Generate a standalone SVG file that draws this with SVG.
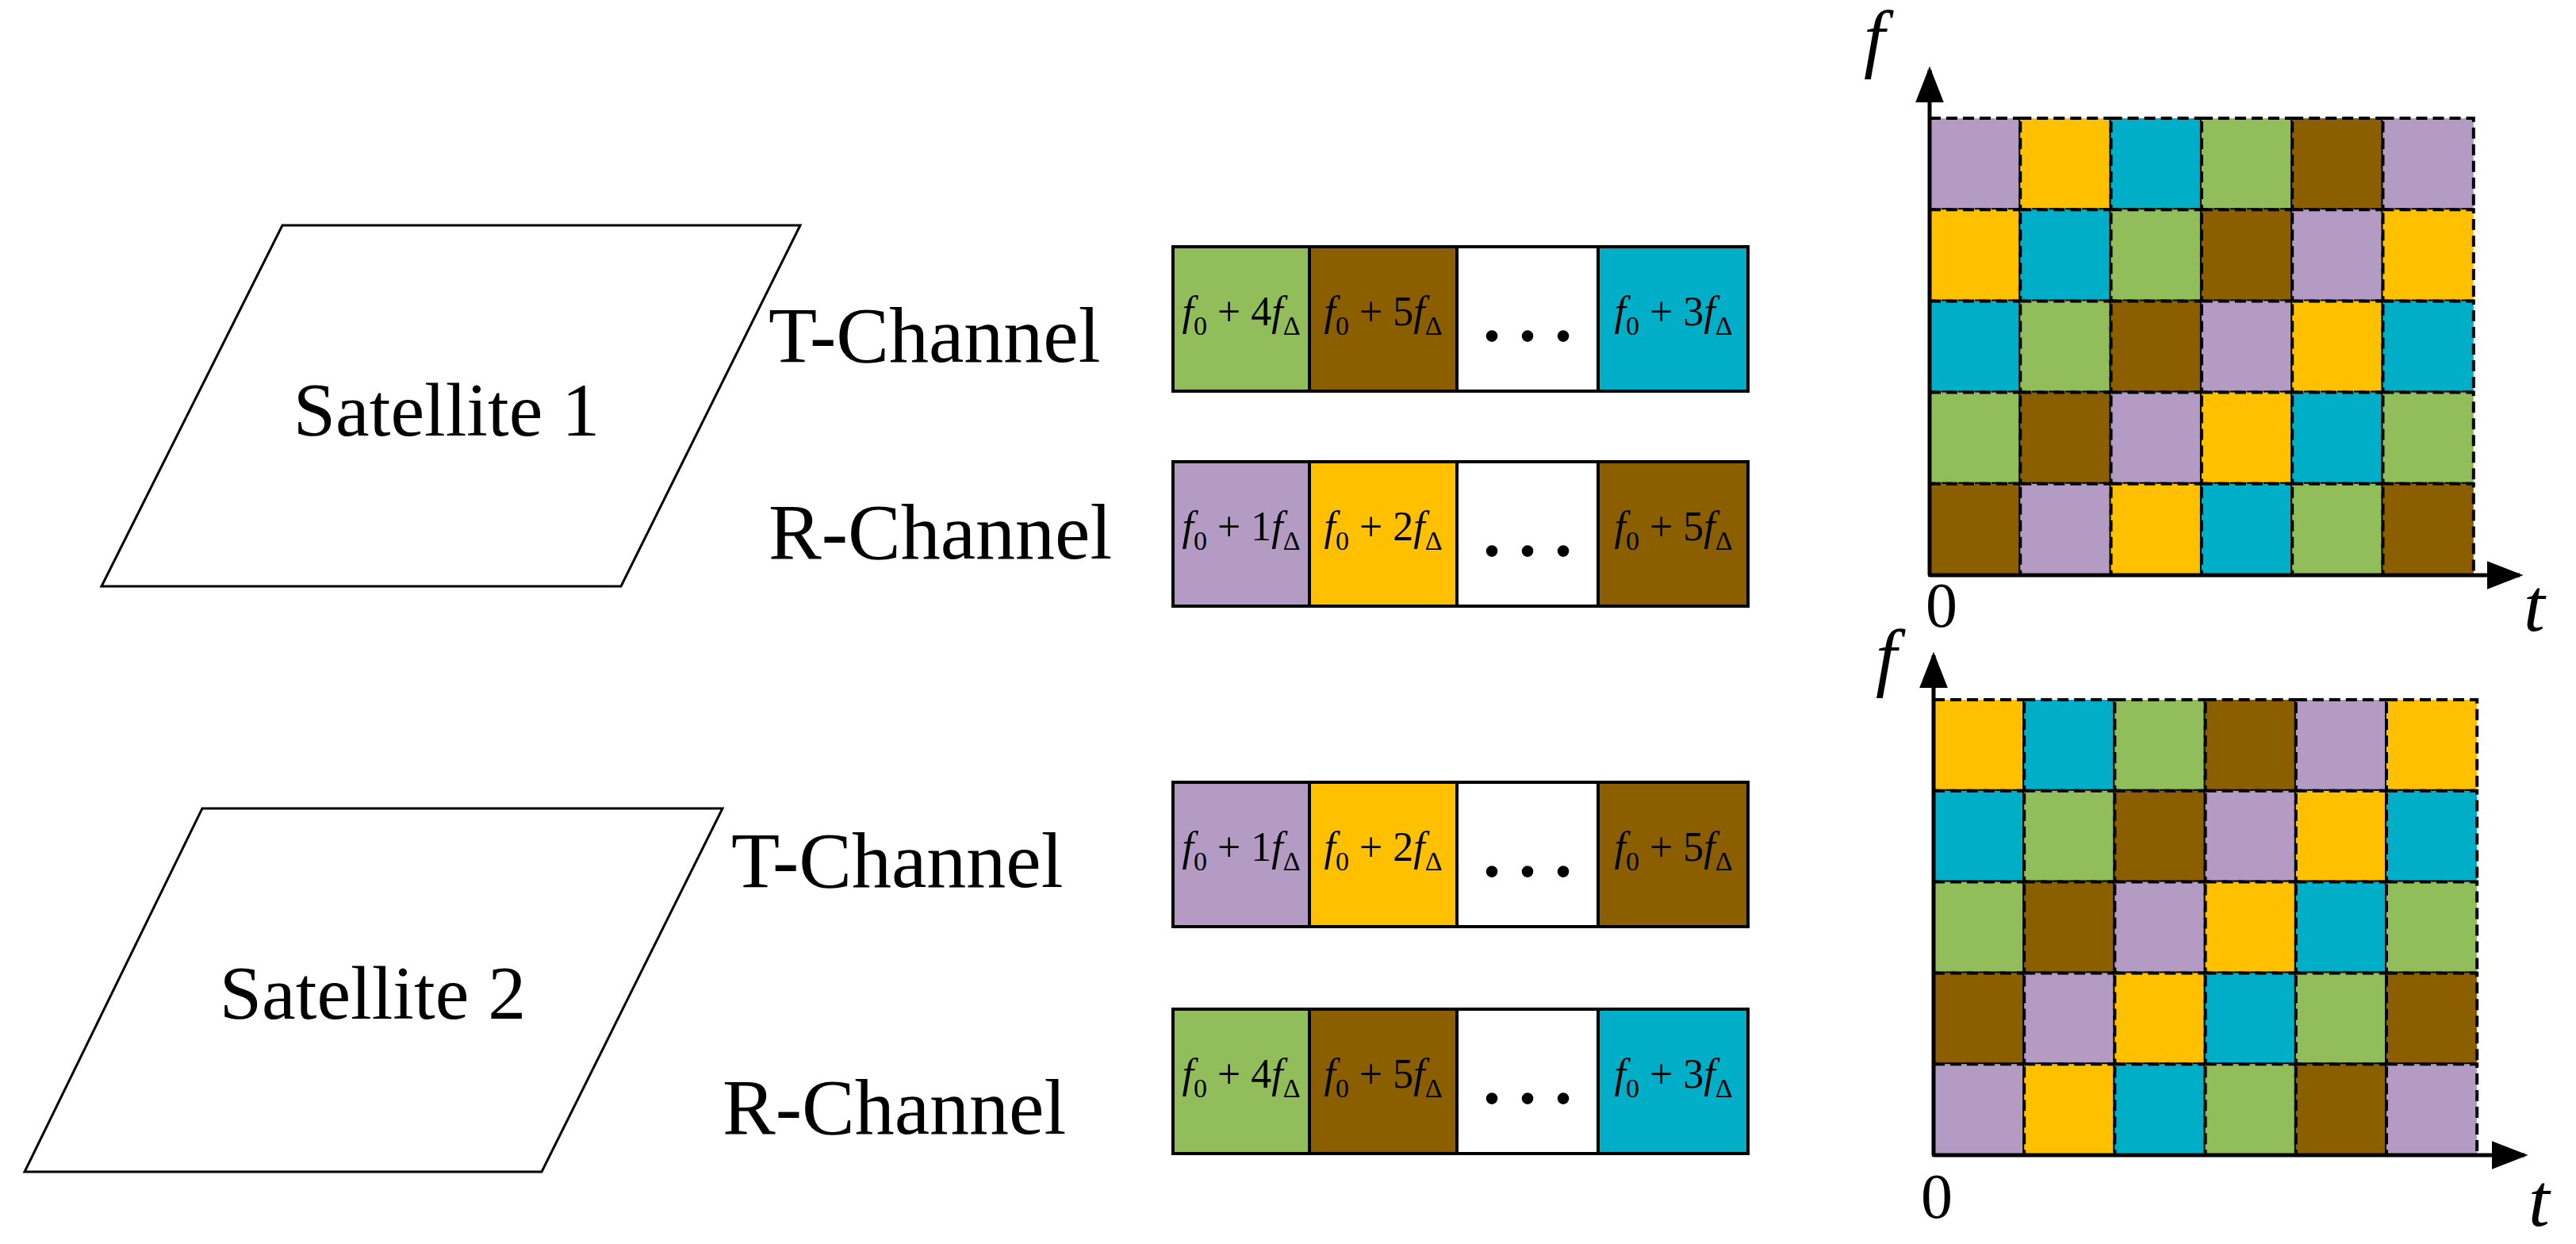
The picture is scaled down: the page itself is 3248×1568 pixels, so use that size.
<svg xmlns="http://www.w3.org/2000/svg" width="3248" height="1568" viewBox="0 0 3248 1568">
<style>
.P{fill:#B49BC3}.Y{fill:#FFC000}.C{fill:#00AEC7}.G{fill:#92BD5B}.B{fill:#8B5E00}.W{fill:#fff}
.cell{stroke:#000;stroke-width:4;stroke-dasharray:14 7}
.box{stroke:#000;stroke-width:4}
.sat{fill:#fff;stroke:#000;stroke-width:3}
.big{font-family:"Liberation Serif",serif;font-size:100px;fill:#000}
.sbig{font-family:"Liberation Serif",serif;font-size:96px;fill:#000;text-anchor:middle}
.lab{font-family:"Liberation Serif",serif;font-size:52px;fill:#000;text-anchor:middle}
.dots{font-family:"Liberation Serif",serif;font-size:90px;font-weight:bold;fill:#000;text-anchor:middle}
.ax{font-family:"Liberation Serif",serif;font-size:96px;font-style:italic;fill:#000}
.num{font-family:"Liberation Serif",serif;font-size:80px;fill:#000}
.axl{stroke:#000;stroke-width:5;fill:none}
</style>
<defs>
<marker id="ah" viewBox="0 0 10 10" refX="9" refY="5" markerWidth="46" markerHeight="36" markerUnits="userSpaceOnUse" orient="auto" preserveAspectRatio="none"><path d="M0,0L10,5L0,10z" fill="#000"/></marker>
</defs>
<g id="sat1"><polygon class="sat" points="356,284 1009,284 783,739 128,739"/><text class="sbig" x="563" y="549">Satellite 1</text></g>
<g id="sat2"><polygon class="sat" points="255,1019 911,1019 683,1477 31,1477"/><text class="sbig" x="470" y="1284">Satellite 2</text></g>
<g id="labels">
<text class="big" x="969" y="456">T-Channel</text>
<text class="big" x="969" y="704">R-Channel</text>
<text class="big" x="922" y="1118">T-Channel</text>
<text class="big" x="911" y="1429">R-Channel</text>
</g>
<g id="box1">
<rect class="G box" x="1479" y="311" width="172" height="182"/><rect class="B box" x="1651" y="311" width="186" height="182"/><rect class="W box" x="1837" y="311" width="178" height="182"/><rect class="C box" x="2015" y="311" width="189" height="182"/>
<text class="lab" x="1565" y="410"><tspan font-style="italic">f</tspan><tspan font-size="34" dy="12">0</tspan><tspan dy="-12"> + 4</tspan><tspan font-style="italic">f</tspan><tspan font-size="34" dy="12">Δ</tspan></text>
<text class="lab" x="1744" y="410"><tspan font-style="italic">f</tspan><tspan font-size="34" dy="12">0</tspan><tspan dy="-12"> + 5</tspan><tspan font-style="italic">f</tspan><tspan font-size="34" dy="12">Δ</tspan></text>
<text class="dots" x="1926" y="430">. . .</text>
<text class="lab" x="2110" y="410"><tspan font-style="italic">f</tspan><tspan font-size="34" dy="12">0</tspan><tspan dy="-12"> + 3</tspan><tspan font-style="italic">f</tspan><tspan font-size="34" dy="12">Δ</tspan></text>
</g>
<g id="box2">
<rect class="P box" x="1479" y="582" width="172" height="182"/><rect class="Y box" x="1651" y="582" width="186" height="182"/><rect class="W box" x="1837" y="582" width="178" height="182"/><rect class="B box" x="2015" y="582" width="189" height="182"/>
<text class="lab" x="1565" y="681"><tspan font-style="italic">f</tspan><tspan font-size="34" dy="12">0</tspan><tspan dy="-12"> + 1</tspan><tspan font-style="italic">f</tspan><tspan font-size="34" dy="12">Δ</tspan></text>
<text class="lab" x="1744" y="681"><tspan font-style="italic">f</tspan><tspan font-size="34" dy="12">0</tspan><tspan dy="-12"> + 2</tspan><tspan font-style="italic">f</tspan><tspan font-size="34" dy="12">Δ</tspan></text>
<text class="dots" x="1926" y="701">. . .</text>
<text class="lab" x="2110" y="681"><tspan font-style="italic">f</tspan><tspan font-size="34" dy="12">0</tspan><tspan dy="-12"> + 5</tspan><tspan font-style="italic">f</tspan><tspan font-size="34" dy="12">Δ</tspan></text>
</g>
<g id="box3">
<rect class="P box" x="1479" y="986" width="172" height="182"/><rect class="Y box" x="1651" y="986" width="186" height="182"/><rect class="W box" x="1837" y="986" width="178" height="182"/><rect class="B box" x="2015" y="986" width="189" height="182"/>
<text class="lab" x="1565" y="1085"><tspan font-style="italic">f</tspan><tspan font-size="34" dy="12">0</tspan><tspan dy="-12"> + 1</tspan><tspan font-style="italic">f</tspan><tspan font-size="34" dy="12">Δ</tspan></text>
<text class="lab" x="1744" y="1085"><tspan font-style="italic">f</tspan><tspan font-size="34" dy="12">0</tspan><tspan dy="-12"> + 2</tspan><tspan font-style="italic">f</tspan><tspan font-size="34" dy="12">Δ</tspan></text>
<text class="dots" x="1926" y="1105">. . .</text>
<text class="lab" x="2110" y="1085"><tspan font-style="italic">f</tspan><tspan font-size="34" dy="12">0</tspan><tspan dy="-12"> + 5</tspan><tspan font-style="italic">f</tspan><tspan font-size="34" dy="12">Δ</tspan></text>
</g>
<g id="box4">
<rect class="G box" x="1479" y="1272" width="172" height="182"/><rect class="B box" x="1651" y="1272" width="186" height="182"/><rect class="W box" x="1837" y="1272" width="178" height="182"/><rect class="C box" x="2015" y="1272" width="189" height="182"/>
<text class="lab" x="1565" y="1371"><tspan font-style="italic">f</tspan><tspan font-size="34" dy="12">0</tspan><tspan dy="-12"> + 4</tspan><tspan font-style="italic">f</tspan><tspan font-size="34" dy="12">Δ</tspan></text>
<text class="lab" x="1744" y="1371"><tspan font-style="italic">f</tspan><tspan font-size="34" dy="12">0</tspan><tspan dy="-12"> + 5</tspan><tspan font-style="italic">f</tspan><tspan font-size="34" dy="12">Δ</tspan></text>
<text class="dots" x="1926" y="1391">. . .</text>
<text class="lab" x="2110" y="1371"><tspan font-style="italic">f</tspan><tspan font-size="34" dy="12">0</tspan><tspan dy="-12"> + 3</tspan><tspan font-style="italic">f</tspan><tspan font-size="34" dy="12">Δ</tspan></text>
</g>
<g id="grid1">
<rect class="P cell" x="2433" y="149" width="114.3" height="115.2"/><rect class="Y cell" x="2547.3" y="149" width="114.3" height="115.2"/><rect class="C cell" x="2661.6" y="149" width="114.3" height="115.2"/><rect class="G cell" x="2775.9" y="149" width="114.3" height="115.2"/><rect class="B cell" x="2890.2" y="149" width="114.3" height="115.2"/><rect class="P cell" x="3004.5" y="149" width="114.3" height="115.2"/>
<rect class="Y cell" x="2433" y="264.2" width="114.3" height="115.2"/><rect class="C cell" x="2547.3" y="264.2" width="114.3" height="115.2"/><rect class="G cell" x="2661.6" y="264.2" width="114.3" height="115.2"/><rect class="B cell" x="2775.9" y="264.2" width="114.3" height="115.2"/><rect class="P cell" x="2890.2" y="264.2" width="114.3" height="115.2"/><rect class="Y cell" x="3004.5" y="264.2" width="114.3" height="115.2"/>
<rect class="C cell" x="2433" y="379.4" width="114.3" height="115.2"/><rect class="G cell" x="2547.3" y="379.4" width="114.3" height="115.2"/><rect class="B cell" x="2661.6" y="379.4" width="114.3" height="115.2"/><rect class="P cell" x="2775.9" y="379.4" width="114.3" height="115.2"/><rect class="Y cell" x="2890.2" y="379.4" width="114.3" height="115.2"/><rect class="C cell" x="3004.5" y="379.4" width="114.3" height="115.2"/>
<rect class="G cell" x="2433" y="494.6" width="114.3" height="115.2"/><rect class="B cell" x="2547.3" y="494.6" width="114.3" height="115.2"/><rect class="P cell" x="2661.6" y="494.6" width="114.3" height="115.2"/><rect class="Y cell" x="2775.9" y="494.6" width="114.3" height="115.2"/><rect class="C cell" x="2890.2" y="494.6" width="114.3" height="115.2"/><rect class="G cell" x="3004.5" y="494.6" width="114.3" height="115.2"/>
<rect class="B cell" x="2433" y="609.8" width="114.3" height="115.2"/><rect class="P cell" x="2547.3" y="609.8" width="114.3" height="115.2"/><rect class="Y cell" x="2661.6" y="609.8" width="114.3" height="115.2"/><rect class="C cell" x="2775.9" y="609.8" width="114.3" height="115.2"/><rect class="G cell" x="2890.2" y="609.8" width="114.3" height="115.2"/><rect class="B cell" x="3004.5" y="609.8" width="114.3" height="115.2"/>
<text class="ax" x="2350" y="80">f</text><text class="num" x="2428" y="790">0</text><text class="ax" x="3182" y="795">t</text>
</g>
<g id="grid2">
<rect class="Y cell" x="2438" y="882" width="114.2" height="114.8"/><rect class="C cell" x="2552.2" y="882" width="114.2" height="114.8"/><rect class="G cell" x="2666.4" y="882" width="114.2" height="114.8"/><rect class="B cell" x="2780.6" y="882" width="114.2" height="114.8"/><rect class="P cell" x="2894.8" y="882" width="114.2" height="114.8"/><rect class="Y cell" x="3009" y="882" width="114.2" height="114.8"/>
<rect class="C cell" x="2438" y="996.8" width="114.2" height="114.8"/><rect class="G cell" x="2552.2" y="996.8" width="114.2" height="114.8"/><rect class="B cell" x="2666.4" y="996.8" width="114.2" height="114.8"/><rect class="P cell" x="2780.6" y="996.8" width="114.2" height="114.8"/><rect class="Y cell" x="2894.8" y="996.8" width="114.2" height="114.8"/><rect class="C cell" x="3009" y="996.8" width="114.2" height="114.8"/>
<rect class="G cell" x="2438" y="1111.6" width="114.2" height="114.8"/><rect class="B cell" x="2552.2" y="1111.6" width="114.2" height="114.8"/><rect class="P cell" x="2666.4" y="1111.6" width="114.2" height="114.8"/><rect class="Y cell" x="2780.6" y="1111.6" width="114.2" height="114.8"/><rect class="C cell" x="2894.8" y="1111.6" width="114.2" height="114.8"/><rect class="G cell" x="3009" y="1111.6" width="114.2" height="114.8"/>
<rect class="B cell" x="2438" y="1226.4" width="114.2" height="114.8"/><rect class="P cell" x="2552.2" y="1226.4" width="114.2" height="114.8"/><rect class="Y cell" x="2666.4" y="1226.4" width="114.2" height="114.8"/><rect class="C cell" x="2780.6" y="1226.4" width="114.2" height="114.8"/><rect class="G cell" x="2894.8" y="1226.4" width="114.2" height="114.8"/><rect class="B cell" x="3009" y="1226.4" width="114.2" height="114.8"/>
<rect class="P cell" x="2438" y="1341.2" width="114.2" height="114.8"/><rect class="Y cell" x="2552.2" y="1341.2" width="114.2" height="114.8"/><rect class="C cell" x="2666.4" y="1341.2" width="114.2" height="114.8"/><rect class="G cell" x="2780.6" y="1341.2" width="114.2" height="114.8"/><rect class="B cell" x="2894.8" y="1341.2" width="114.2" height="114.8"/><rect class="P cell" x="3009" y="1341.2" width="114.2" height="114.8"/>
<text class="ax" x="2365" y="860">f</text><text class="num" x="2422" y="1535">0</text><text class="ax" x="3188" y="1545">t</text>
</g>
<g id="connectors">
<line class="axl" x1="2433" y1="725" x2="2433" y2="88" marker-end="url(#ah)"/>
<line class="axl" x1="2433" y1="725" x2="3177" y2="725" marker-end="url(#ah)"/>
<line class="axl" x1="2438" y1="1456" x2="2438" y2="826" marker-end="url(#ah)"/>
<line class="axl" x1="2438" y1="1456" x2="3183" y2="1456" marker-end="url(#ah)"/>
</g>
</svg>
